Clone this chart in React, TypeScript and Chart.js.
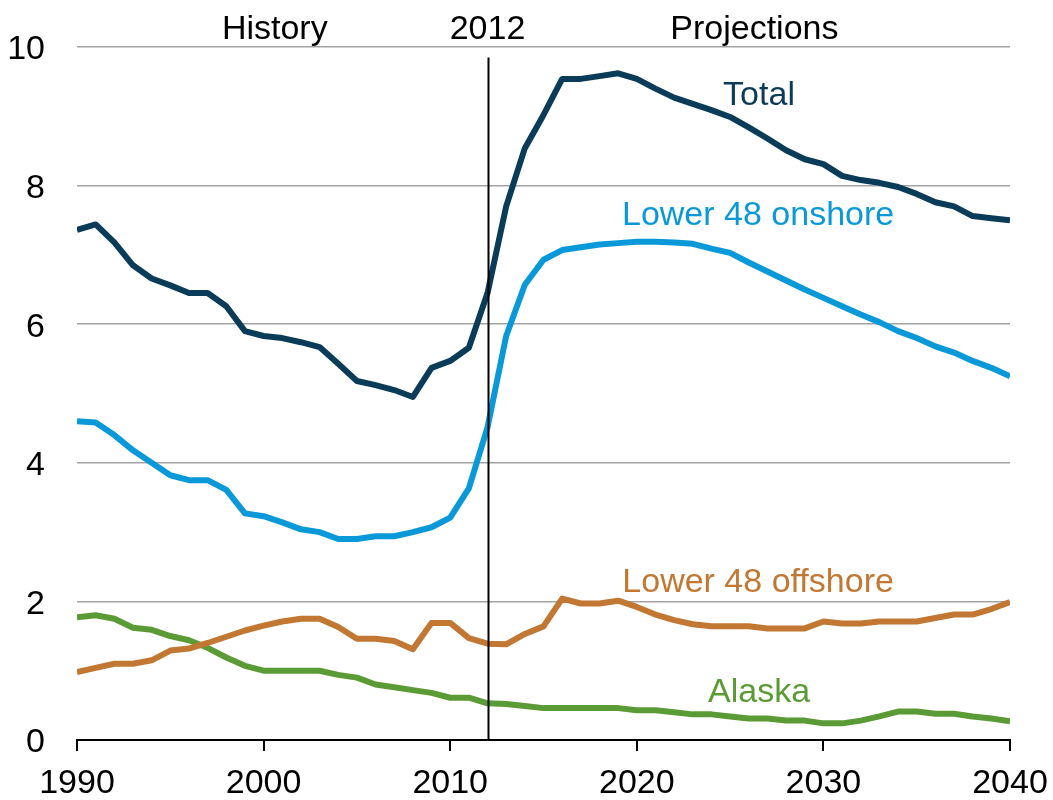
import React, { useEffect, useRef } from "react";
import { Chart, registerables } from "chart.js";

Chart.register(...registerables);

const years = [
  1990, 1991, 1992, 1993, 1994, 1995, 1996, 1997, 1998, 1999,
  2000, 2001, 2002, 2003, 2004, 2005, 2006, 2007, 2008, 2009,
  2010, 2011, 2012, 2013, 2014, 2015, 2016, 2017, 2018, 2019,
  2020, 2021, 2022, 2023, 2024, 2025, 2026, 2027, 2028, 2029,
  2030, 2031, 2032, 2033, 2034, 2035, 2036, 2037, 2038, 2039,
  2040,
];

const total = [
  7.36, 7.44, 7.18, 6.85, 6.66, 6.56, 6.45, 6.45, 6.26, 5.9,
  5.83, 5.8, 5.74, 5.67, 5.43, 5.18, 5.12, 5.05, 4.95, 5.37,
  5.47, 5.66, 6.45, 7.7, 8.54, 9.02, 9.54, 9.54, 9.58, 9.62,
  9.54, 9.4, 9.27, 9.18, 9.09, 8.99, 8.84, 8.68, 8.51, 8.38,
  8.31, 8.14, 8.08, 8.04, 7.98, 7.88, 7.76, 7.7, 7.56, 7.53,
  7.5,
];

const onshore = [
  4.6, 4.58, 4.4, 4.18, 4.0, 3.82, 3.75, 3.75, 3.61, 3.27,
  3.23, 3.14, 3.04, 3.0, 2.9, 2.9, 2.94, 2.94, 3.0, 3.07,
  3.21, 3.63, 4.51, 5.83, 6.57, 6.93, 7.07, 7.11, 7.15, 7.17,
  7.19, 7.19, 7.18, 7.16, 7.09, 7.03, 6.89, 6.76, 6.63, 6.5,
  6.38, 6.26, 6.14, 6.03, 5.9, 5.8, 5.68, 5.59, 5.47, 5.37,
  5.25,
];

const offshore = [
  0.98, 1.04, 1.1, 1.1, 1.15, 1.29, 1.32, 1.4, 1.49, 1.58,
  1.65, 1.71, 1.75, 1.75, 1.63, 1.46, 1.46, 1.43, 1.31, 1.69,
  1.69, 1.47, 1.39, 1.38, 1.53, 1.64, 2.04, 1.97, 1.97, 2.01,
  1.92, 1.81, 1.73, 1.67, 1.64, 1.64, 1.64, 1.61, 1.61, 1.61,
  1.71, 1.68, 1.68, 1.71, 1.71, 1.71, 1.76, 1.81, 1.81, 1.89,
  1.99,
];

const alaska = [
  1.77, 1.8, 1.75, 1.62, 1.59, 1.5, 1.44, 1.33, 1.19, 1.07,
  1.0, 1.0, 1.0, 1.0, 0.94, 0.9, 0.8, 0.76, 0.72, 0.68,
  0.61, 0.61, 0.53, 0.52, 0.49, 0.46, 0.46, 0.46, 0.46, 0.46,
  0.43, 0.43, 0.4, 0.37, 0.37, 0.34, 0.31, 0.31, 0.28, 0.28,
  0.24, 0.24, 0.28, 0.34, 0.41, 0.41, 0.38, 0.38, 0.34, 0.31,
  0.27,
];

const seriesNames = ["Total", "Lower 48 onshore", "Lower 48 offshore", "Alaska"];
const seriesColors = ["#0a3b59", "#0a99d8", "#c27832", "#5b9b35"];
const seriesData = [total, onshore, offshore, alaska];

// label anchors in data units (x = year, y = value)
const labelX = [2026.55, 2026.5, 2026.5, 2026.55];
const labelY = [9.34, 7.61, 2.32, 0.73];

const dividerYear = 2012;
const dividerTop = 9.85;
const headerTexts = ["History", "2012", "Projections"];
const headerX = [2000.6, 2012, 2026.3];
const headerY = 10.29;

const yTicks = [0, 2, 4, 6, 8, 10];
const xTicks = [1990, 2000, 2010, 2020, 2030, 2040];

const FONT = "'Liberation Sans', Arial, sans-serif";

const annotationPlugin = {
  id: "annotations",
  afterDatasetsDraw(chart: any) {
    const { ctx, scales } = chart;
    const x = scales.x;
    const y = scales.y;
    ctx.save();
    // vertical 2012 divider
    const px = Math.round(x.getPixelForValue(dividerYear)) + 0.5;
    ctx.strokeStyle = "#000";
    ctx.lineWidth = 2;
    ctx.beginPath();
    ctx.moveTo(px, y.getPixelForValue(dividerTop));
    ctx.lineTo(px, y.getPixelForValue(0));
    ctx.stroke();

    ctx.font = `34px ${FONT}`;
    ctx.textAlign = "center";
    ctx.textBaseline = "middle";
    // headers
    ctx.fillStyle = "#000";
    headerTexts.forEach((t, i) => {
      ctx.fillText(t, x.getPixelForValue(headerX[i]), y.getPixelForValue(headerY) + 3);
    });
    // series labels
    seriesNames.forEach((t, i) => {
      ctx.fillStyle = seriesColors[i];
      ctx.fillText(t, x.getPixelForValue(labelX[i]), y.getPixelForValue(labelY[i]) + 3);
    });
    ctx.restore();
  },
};

export default function App() {
  const ref = useRef<HTMLCanvasElement | null>(null);

  useEffect(() => {
    if (!ref.current) return;
    const chart = new Chart(ref.current, {
      type: "line",
      data: {
        datasets: seriesNames.map((name, i) => ({
          label: name,
          data: years.map((yr, j) => ({ x: yr, y: seriesData[i][j] })),
          borderColor: seriesColors[i],
          backgroundColor: seriesColors[i],
          borderWidth: 6,
          pointRadius: 0,
          pointHoverRadius: 0,
          tension: 0,
          borderJoinStyle: "round" as const,
          borderCapStyle: "butt" as const,
          fill: false,
        })),
      },
      options: {
        responsive: false,
        animation: false,
        devicePixelRatio: 1,
        layout: { padding: { top: 47, right: 43, left: 0, bottom: 0 } },
        plugins: {
          legend: { display: false },
          tooltip: { enabled: false },
          title: { display: false },
        },
        scales: {
          x: {
            type: "linear",
            min: 1990,
            max: 2040,
            afterFit: (s: any) => {
              s.height = 60;
              s.paddingLeft = 0;
              s.paddingRight = 0;
            },
            afterBuildTicks: (s: any) => {
              s.ticks = xTicks.map((v) => ({ value: v }));
            },
            ticks: {
              callback: (v: any) => String(v),
              color: "#000",
              font: { size: 34, family: FONT },
              padding: 12,
              maxRotation: 0,
              autoSkip: false,
            },
            grid: {
              drawOnChartArea: false,
              drawTicks: true,
              tickLength: 11,
              color: "#000",
              lineWidth: 2,
            },
            border: { display: true, color: "#000", width: 2 },
          },
          y: {
            type: "linear",
            min: 0,
            max: 10,
            afterFit: (s: any) => {
              s.width = 77;
              s.paddingTop = 0;
              s.paddingBottom = 0;
            },
            afterBuildTicks: (s: any) => {
              s.ticks = yTicks.map((v) => ({ value: v }));
            },
            ticks: {
              callback: (v: any) => String(v),
              color: "#000",
              font: { size: 34, family: FONT },
              padding: 32,
              labelOffset: 3,
            },
            grid: {
              drawTicks: false,
              color: (c: any) => (c.tick && c.tick.value === 0 ? "rgba(0,0,0,0)" : "#a3a3a3"),
              lineWidth: 1.5,
            },
            border: { display: false },
          },
        },
      },
      plugins: [annotationPlugin],
    });
    return () => chart.destroy();
  }, []);

  return (
    <div style={{ position: "absolute", left: 0, top: 0, width: 1053, height: 800, background: "#fff" }}>
      <canvas ref={ref} width={1053} height={800} />
    </div>
  );
}
